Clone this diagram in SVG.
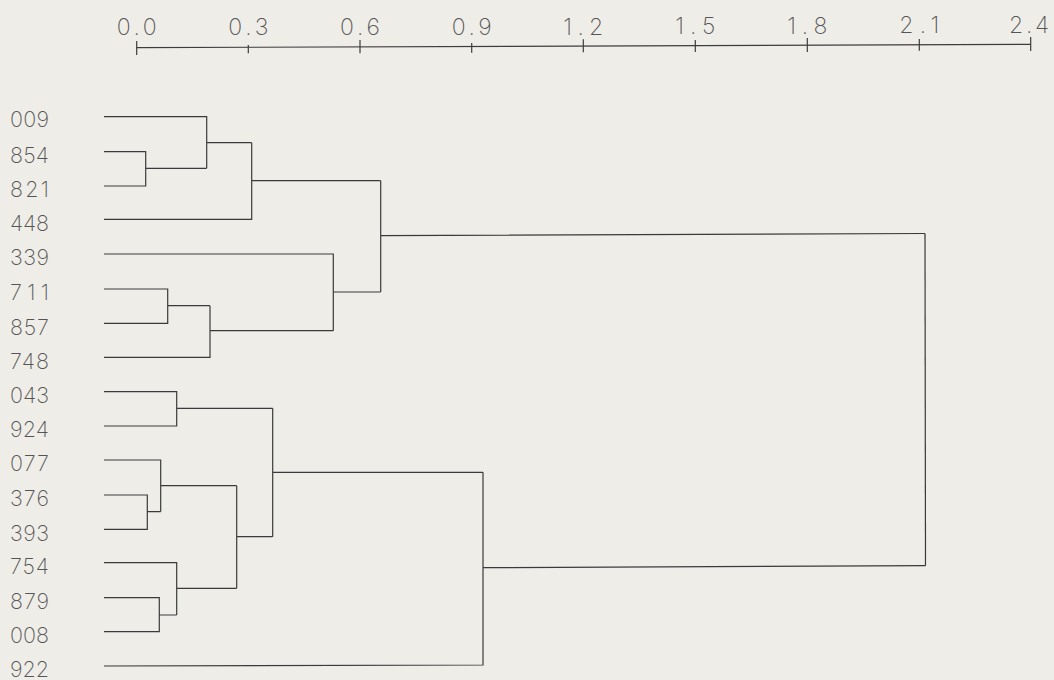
<svg xmlns="http://www.w3.org/2000/svg" width="1054" height="680" viewBox="0 0 1054 680">
<style>
.bg{fill:#efede8}
.ax{stroke:#3c3c3c;stroke-width:1.2;fill:none}
.br{stroke:#3a3a3a;stroke-width:1.2;fill:none}
.lbl{font-family:Inter,"DejaVu Sans","Liberation Sans",sans-serif;font-weight:200;font-size:21.5px;fill:#555}
.tk{font-family:Inter,"DejaVu Sans","Liberation Sans",sans-serif;font-weight:200;font-size:23px;fill:#555;text-anchor:middle}
</style>
<rect class="bg" x="0" y="0" width="1054" height="680"/>
<g id="axis">
<path class="ax" d="M136.7 47.7 L1030.7 44.3"/>
<path class="ax" d="M136.7 41 V55 M248.3 45 V53.3 M360 40 V53.3 M471.7 43 V52.7 M583.3 39.3 V52.3 M695.3 40 V52 M807.3 38 V52 M919.3 39 V50.7 M1030.7 37 V51"/>
<text class="tk" x="136.7" y="35" textLength="40">0.0</text>
<text class="tk" x="248.3" y="35" textLength="40">0.3</text>
<text class="tk" x="360" y="35" textLength="40">0.6</text>
<text class="tk" x="471.7" y="35" textLength="40">0.9</text>
<text class="tk" x="583.3" y="34.5" textLength="40">1.2</text>
<text class="tk" x="695.3" y="34" textLength="40">1.5</text>
<text class="tk" x="807.3" y="33.5" textLength="40">1.8</text>
<text class="tk" x="919.3" y="33" textLength="40">2.1</text>
<text class="tk" x="1029" y="32.5" textLength="40">2.4</text>
</g>
<g id="leaf-009"><text class="lbl" x="10" y="127" textLength="39">009</text></g>
<g id="leaf-854"><text class="lbl" x="10" y="162.5" textLength="39">854</text></g>
<g id="leaf-821"><text class="lbl" x="10" y="197" textLength="39">821</text></g>
<g id="leaf-448"><text class="lbl" x="10" y="230.5" textLength="39">448</text></g>
<g id="leaf-339"><text class="lbl" x="10" y="265" textLength="39">339</text></g>
<g id="leaf-711"><text class="lbl" x="10" y="300" textLength="39">711</text></g>
<g id="leaf-857"><text class="lbl" x="10" y="334.5" textLength="39">857</text></g>
<g id="leaf-748"><text class="lbl" x="10" y="368.5" textLength="39">748</text></g>
<g id="leaf-043"><text class="lbl" x="10" y="403" textLength="39">043</text></g>
<g id="leaf-924"><text class="lbl" x="10" y="437" textLength="39">924</text></g>
<g id="leaf-077"><text class="lbl" x="10" y="471" textLength="39">077</text></g>
<g id="leaf-376"><text class="lbl" x="10" y="506" textLength="39">376</text></g>
<g id="leaf-393"><text class="lbl" x="10" y="540.5" textLength="39">393</text></g>
<g id="leaf-754"><text class="lbl" x="10" y="574" textLength="39">754</text></g>
<g id="leaf-879"><text class="lbl" x="10" y="609" textLength="39">879</text></g>
<g id="leaf-008"><text class="lbl" x="10" y="643" textLength="39">008</text></g>
<g id="leaf-922"><text class="lbl" x="10" y="677" textLength="39">922</text></g>
<g id="connectors">
<path class="br" d="M104 151.7 H145.7 V186 H104 M145.7 168.3 H206.7"/>
<path class="br" d="M104 116.7 H206.7 V168.3 M206.7 142.7 H251.7"/>
<path class="br" d="M251.7 142.7 V219.3 H104 M251.7 180.7 H380.7"/>
<path class="br" d="M104 289 H167.7 V323.3 H104 M167.7 305.7 H210"/>
<path class="br" d="M210 305.7 V357.3 H104 M210 330.7 H333.3"/>
<path class="br" d="M104 254 H333.3 V330.7 M333.3 292 H380.7"/>
<path class="br" d="M380.7 180.7 V292 M380.7 235.7 L925 233.5"/>
<path class="br" d="M104 391.7 H176.7 V426 H104 M176.7 408.3 H272.7"/>
<path class="br" d="M104 495 H147.3 V529.3 H104 M147.3 511.7 H160.7"/>
<path class="br" d="M104 460 H160.7 V511.7 M160.7 485.7 H236.7"/>
<path class="br" d="M104 597.7 H159.3 V631.7 H104 M159.3 615 H176.7"/>
<path class="br" d="M104 562.7 H176.7 V615 M176.7 588.3 H236.7"/>
<path class="br" d="M236.7 485.7 V588.3 M236.7 536.7 H272.7"/>
<path class="br" d="M272.7 408.3 V536.7 M272.7 472.3 H483"/>
<path class="br" d="M483 472.3 V665 L104 666 M483 567.7 L925.5 565.7"/>
<path class="br" d="M925 233.5 L925.5 565.7"/>
</g>
</svg>
